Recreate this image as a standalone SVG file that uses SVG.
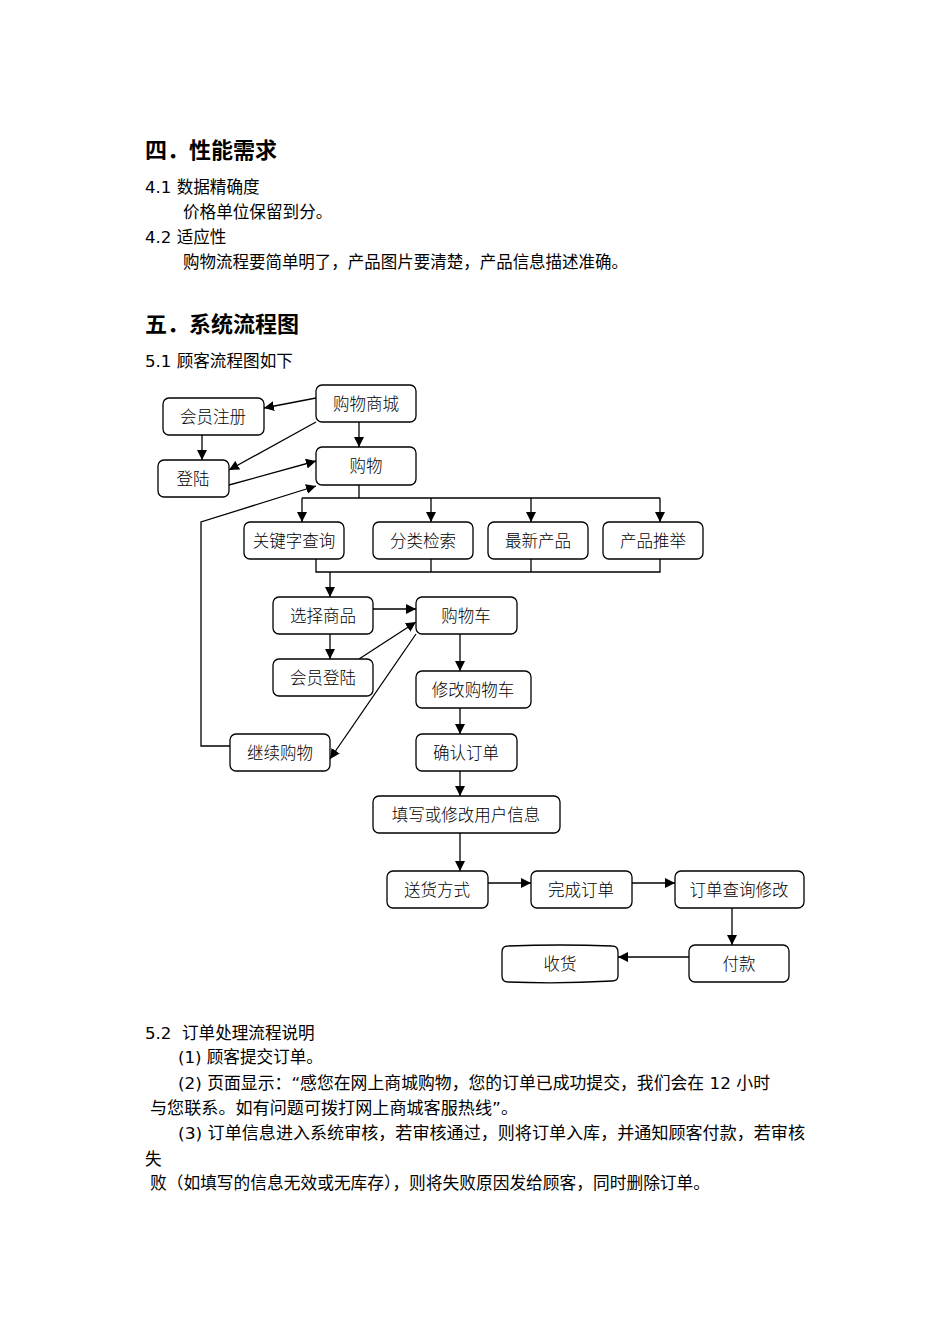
<svg xmlns="http://www.w3.org/2000/svg" width="950" height="1344" viewBox="0 0 950 1344">
<style>
.t{font-family:"DejaVu Sans","Noto Sans CJK SC",sans-serif;font-size:16.6px;fill:#000;white-space:pre}
.h{font-family:"DejaVu Sans","Noto Sans CJK SC",sans-serif;font-size:22px;font-weight:bold;fill:#000}
.box{fill:#fff;stroke:#000;stroke-width:1.3}
.lbl{font-family:"Noto Sans CJK SC",sans-serif;font-size:16.5px;font-weight:300;fill:#000;text-anchor:middle;dominant-baseline:central}
.c{fill:none;stroke:#000;stroke-width:1.3}
.a{marker-end:url(#ah)}
</style>
<defs>
<marker id="ah" viewBox="0 0 10 10" refX="10" refY="5" markerWidth="10" markerHeight="10" markerUnits="userSpaceOnUse" orient="auto">
<path d="M0,0 L10,5 L0,10 z" fill="#000"/>
</marker>
</defs>
<rect width="950" height="1344" fill="#fff"/>

<g id="text-top">
<text class="h" x="145" y="158">四．性能需求</text>
<text class="t" x="145" y="193">4.1 数据精确度</text>
<text class="t" x="183" y="218">价格单位保留到分。</text>
<text class="t" x="145" y="243">4.2 适应性</text>
<text class="t" x="183" y="268" textLength="445" lengthAdjust="spacingAndGlyphs">购物流程要简单明了，产品图片要清楚，产品信息描述准确。</text>
<text class="h" x="145" y="332">五．系统流程图</text>
<text class="t" x="145" y="367">5.1 顾客流程图如下</text>
</g>

<g id="connectors">
<line class="c a" x1="316" y1="398" x2="264" y2="408"/>
<line class="c a" x1="316" y1="422" x2="229" y2="470"/>
<line class="c a" x1="359" y1="422" x2="359" y2="447"/>
<line class="c a" x1="202" y1="435" x2="202" y2="460"/>
<line class="c a" x1="229" y1="485" x2="316" y2="461"/>
<polyline class="c a" points="230,746 201,746 201,522 316,486"/>
<polyline class="c" points="359,485 359,498"/>
<line class="c" x1="302" y1="498" x2="660" y2="498"/>
<line class="c a" x1="302" y1="498" x2="302" y2="522"/>
<line class="c a" x1="431" y1="498" x2="431" y2="522"/>
<line class="c a" x1="531" y1="498" x2="531" y2="522"/>
<line class="c a" x1="660" y1="498" x2="660" y2="522"/>
<polyline class="c" points="316,559 316,572 660,572 660,559"/>
<line class="c" x1="431" y1="559" x2="431" y2="572"/>
<line class="c" x1="531" y1="559" x2="531" y2="572"/>
<line class="c a" x1="330" y1="572" x2="330" y2="597"/>
<line class="c a" x1="373" y1="609" x2="416" y2="609"/>
<line class="c a" x1="330" y1="634" x2="330" y2="659"/>
<line class="c a" x1="359" y1="659" x2="416" y2="622"/>
<line class="c a" x1="416" y1="634" x2="330" y2="759"/>
<line class="c a" x1="460" y1="634" x2="460" y2="671"/>
<line class="c a" x1="460" y1="708" x2="460" y2="734"/>
<line class="c a" x1="460" y1="771" x2="460" y2="796"/>
<line class="c a" x1="460" y1="833" x2="460" y2="871"/>
<line class="c a" x1="488" y1="883" x2="531" y2="883"/>
<line class="c a" x1="632" y1="883" x2="675" y2="883"/>
<line class="c a" x1="732" y1="908" x2="732" y2="945"/>
<line class="c a" x1="689" y1="957" x2="618" y2="957"/>
</g>

<g id="n-gouwushangcheng"><rect class="box" x="316" y="385" width="100" height="37" rx="6"/><text class="lbl" x="366" y="403">购物商城</text></g>
<g id="n-huiyuanzhuce"><rect class="box" x="163" y="398" width="101" height="37" rx="6"/><text class="lbl" x="213" y="416">会员注册</text></g>
<g id="n-denglu"><rect class="box" x="158" y="460" width="71" height="37" rx="6"/><text class="lbl" x="193" y="478">登陆</text></g>
<g id="n-gouwu"><rect class="box" x="316" y="447" width="100" height="38" rx="6"/><text class="lbl" x="366" y="465">购物</text></g>
<g id="n-guanjianzi"><rect class="box" x="244" y="522" width="100" height="37" rx="6"/><text class="lbl" x="294" y="540">关键字查询</text></g>
<g id="n-fenlei"><rect class="box" x="373" y="522" width="100" height="37" rx="6"/><text class="lbl" x="423" y="540">分类检索</text></g>
<g id="n-zuixin"><rect class="box" x="488" y="522" width="100" height="37" rx="6"/><text class="lbl" x="538" y="540">最新产品</text></g>
<g id="n-tuiju"><rect class="box" x="603" y="522" width="100" height="37" rx="6"/><text class="lbl" x="653" y="540">产品推举</text></g>
<g id="n-xuanze"><rect class="box" x="273" y="597" width="100" height="37" rx="6"/><text class="lbl" x="323" y="615">选择商品</text></g>
<g id="n-gouwuche"><rect class="box" x="416" y="597" width="101" height="37" rx="6"/><text class="lbl" x="466" y="615">购物车</text></g>
<g id="n-huiyuandenglu"><rect class="box" x="273" y="659" width="100" height="37" rx="6"/><text class="lbl" x="323" y="677">会员登陆</text></g>
<g id="n-xiugai"><rect class="box" x="416" y="671" width="115" height="37" rx="6"/><text class="lbl" x="473" y="689">修改购物车</text></g>
<g id="n-jixu"><rect class="box" x="230" y="734" width="100" height="37" rx="6"/><text class="lbl" x="280" y="752">继续购物</text></g>
<g id="n-queren"><rect class="box" x="416" y="734" width="101" height="37" rx="6"/><text class="lbl" x="466" y="752">确认订单</text></g>
<g id="n-tianxie"><rect class="box" x="373" y="796" width="187" height="37" rx="6"/><text class="lbl" x="466" y="814">填写或修改用户信息</text></g>
<g id="n-songhuo"><rect class="box" x="387" y="871" width="101" height="37" rx="6"/><text class="lbl" x="437" y="889">送货方式</text></g>
<g id="n-wancheng"><rect class="box" x="531" y="871" width="101" height="37" rx="6"/><text class="lbl" x="581" y="889">完成订单</text></g>
<g id="n-chaxun"><rect class="box" x="675" y="871" width="129" height="37" rx="6"/><text class="lbl" x="739" y="889">订单查询修改</text></g>
<g id="n-shouhuo"><path class="box" d="M508,946 Q560,944 612,946 Q618,946 618,952 L618,976 Q618,981 612,981 Q560,984 508,982 Q502,982 502,976 L502,952 Q502,946 508,946 Z"/><text class="lbl" x="560" y="963">收货</text></g>
<g id="n-fukuan"><rect class="box" x="689" y="945" width="100" height="37" rx="6"/><text class="lbl" x="739" y="963">付款</text></g>

<g id="text-bottom">
<text class="t" x="145" y="1039">5.2  订单处理流程说明</text>
<text class="t" x="178" y="1063">(1) 顾客提交订单。</text>
<text class="t" x="178" y="1089" textLength="592" lengthAdjust="spacingAndGlyphs">(2) 页面显示：“感您在网上商城购物，您的订单已成功提交，我们会在 12 小时</text>
<text class="t" x="150" y="1114" textLength="368" lengthAdjust="spacingAndGlyphs">与您联系。如有问题可拨打网上商城客服热线”。</text>
<text class="t" x="178" y="1139" textLength="627" lengthAdjust="spacingAndGlyphs">(3) 订单信息进入系统审核，若审核通过，则将订单入库，并通知顾客付款，若审核</text>
<text class="t" x="145" y="1165">失</text>
<text class="t" x="150" y="1189" textLength="560" lengthAdjust="spacingAndGlyphs">败（如填写的信息无效或无库存），则将失败原因发给顾客，同时删除订单。</text>
</g>
</svg>
